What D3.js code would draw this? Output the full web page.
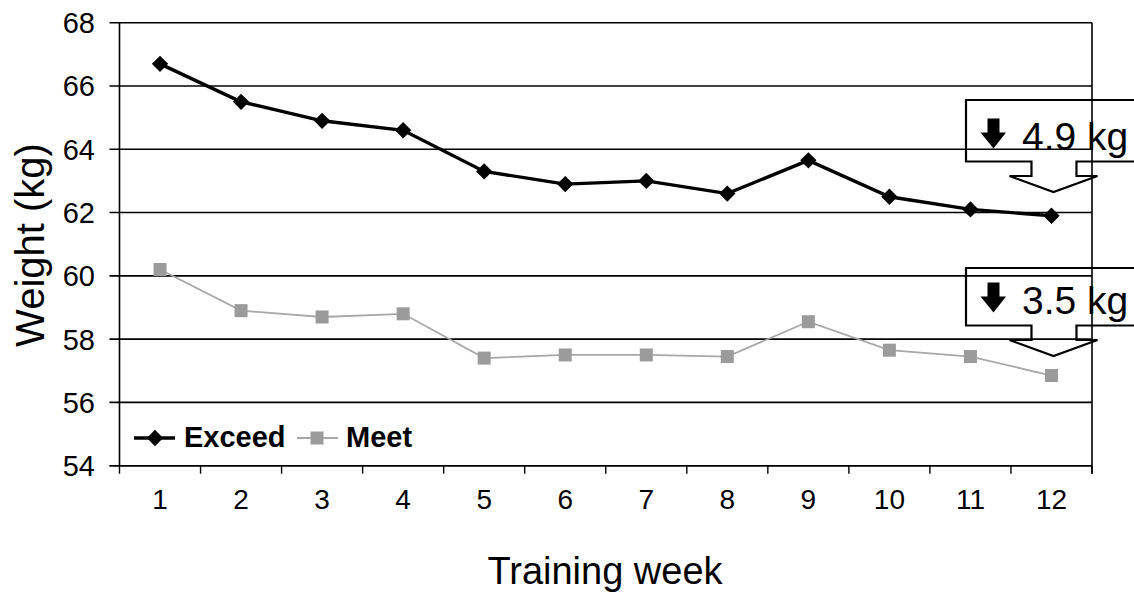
<!DOCTYPE html>
<html>
<head>
<meta charset="utf-8">
<script src="https://cdn.jsdelivr.net/npm/d3@7"></script>
<style>
  html, body { margin: 0; padding: 0; background: #fff; }
  svg { display: block; font-family: "Liberation Sans", Arial, sans-serif; }
</style>
</head>
<body>
<svg id="chart" width="1134" height="593"></svg>
<script>
// Weekly mean body weight for the two groups
const weeks = ["1", "2", "3", "4", "5", "6", "7", "8", "9", "10", "11", "12"];
const exceedWeight = [66.7, 65.5, 64.9, 64.6, 63.3, 62.9, 63.0, 62.6, 63.65, 62.5, 62.1, 61.9];
const meetWeight   = [60.2, 58.9, 58.7, 58.8, 57.4, 57.5, 57.5, 57.45, 58.55, 57.65, 57.45, 56.85];
const yTicks = [54, 56, 58, 60, 62, 64, 66, 68];
const seriesNames = ["Exceed", "Meet"];
const dropLabels = ["4.9 kg", "3.5 kg"];

const svg = d3.select("#chart");
const plotLeft = 119.5, plotRight = 1092, plotTop = 22.7, plotBottom = 465.7;

const x = d3.scaleBand().domain(weeks).range([plotLeft, plotRight]).paddingInner(0).paddingOuter(0);
const y = d3.scaleLinear().domain([54, 68]).range([plotBottom, plotTop]);
const cx = d => x(d) + x.bandwidth() / 2;

// Horizontal gridlines (with the short outer tick on the left)
svg.append("g")
  .selectAll("line")
  .data(yTicks)
  .join("line")
  .attr("x1", plotLeft - 10).attr("x2", plotRight)
  .attr("y1", d => y(d)).attr("y2", d => y(d))
  .attr("stroke", "#000").attr("stroke-width", 1.6);

// Y axis line and right border of the plot area
svg.append("line").attr("x1", plotLeft).attr("x2", plotLeft).attr("y1", plotTop).attr("y2", plotBottom)
  .attr("stroke", "#000").attr("stroke-width", 1.6);
svg.append("line").attr("x1", plotRight).attr("x2", plotRight).attr("y1", plotTop).attr("y2", plotBottom + 8)
  .attr("stroke", "#000").attr("stroke-width", 1.6);

// Y tick labels
svg.append("g")
  .selectAll("text")
  .data(yTicks)
  .join("text")
  .attr("x", 95).attr("y", d => y(d))
  .attr("dy", "0.36em")
  .attr("text-anchor", "end")
  .attr("font-size", 29)
  .text(d => d);

// X axis with category boundary ticks
svg.append("line").attr("x1", plotLeft - 10).attr("x2", plotRight).attr("y1", plotBottom).attr("y2", plotBottom)
  .attr("stroke", "#000").attr("stroke-width", 1.6);
const boundaries = weeks.map(w => x(w)).concat([plotRight]);
svg.append("g")
  .selectAll("line")
  .data(boundaries)
  .join("line")
  .attr("x1", d => d).attr("x2", d => d)
  .attr("y1", plotBottom).attr("y2", plotBottom + 8)
  .attr("stroke", "#000").attr("stroke-width", 1.4);

svg.append("g")
  .selectAll("text")
  .data(weeks)
  .join("text")
  .attr("x", d => cx(d)).attr("y", 509)
  .attr("text-anchor", "middle")
  .attr("font-size", 28)
  .text(d => d);

// Axis titles
svg.append("text")
  .attr("x", 605).attr("y", 584)
  .attr("text-anchor", "middle")
  .attr("font-size", 38)
  .text("Training week");
svg.append("text")
  .attr("transform", "translate(44,245) rotate(-90)")
  .attr("text-anchor", "middle")
  .attr("font-size", 40)
  .text("Weight (kg)");

// Series lines
const line = d3.line().x((d, i) => cx(weeks[i])).y(d => y(d));

svg.append("path").datum(meetWeight)
  .attr("d", line).attr("fill", "none")
  .attr("stroke", "#a8a8a8").attr("stroke-width", 1.8);
svg.append("path").datum(exceedWeight)
  .attr("d", line).attr("fill", "none")
  .attr("stroke", "#000").attr("stroke-width", 3.4);

const diamond = d3.symbol().type(d3.symbolDiamond2).size(170);
const square = 13;

svg.append("g")
  .selectAll("rect")
  .data(meetWeight)
  .join("rect")
  .attr("x", (d, i) => cx(weeks[i]) - square / 2)
  .attr("y", d => y(d) - square / 2)
  .attr("width", square).attr("height", square)
  .attr("fill", "#9b9b9b");

svg.append("g")
  .selectAll("path")
  .data(exceedWeight)
  .join("path")
  .attr("transform", (d, i) => `translate(${cx(weeks[i])},${y(d)})`)
  .attr("d", diamond)
  .attr("fill", "#000");

// Legend
const lg = svg.append("g").attr("font-size", 29).attr("font-weight", "bold");
lg.append("line").attr("x1", 134).attr("x2", 175).attr("y1", 438).attr("y2", 438)
  .attr("stroke", "#000").attr("stroke-width", 3.4);
lg.append("path").attr("transform", "translate(155,438)").attr("d", diamond).attr("fill", "#000");
lg.append("text").attr("x", 184).attr("y", 447).text(seriesNames[0]);
lg.append("line").attr("x1", 297).attr("x2", 338).attr("y1", 438).attr("y2", 438)
  .attr("stroke", "#a8a8a8").attr("stroke-width", 1.8);
lg.append("rect").attr("x", 317 - square / 2).attr("y", 438 - square / 2)
  .attr("width", square).attr("height", square).attr("fill", "#9b9b9b");
lg.append("text").attr("x", 346).attr("y", 447).text(seriesNames[1]);

// Callouts showing the total drop for each group
function callout(boxTop, boxBottom, stemBottom, tipY, label) {
  const tipX = cx(weeks[weeks.length - 1]) + 2;
  const g = svg.append("g");
  const p = d3.path();
  p.moveTo(1150, boxTop);
  p.lineTo(966, boxTop);
  p.lineTo(966, boxBottom);
  p.lineTo(tipX - 22, boxBottom);
  p.lineTo(tipX - 22, stemBottom);
  p.lineTo(tipX - 44, stemBottom);
  p.lineTo(tipX, tipY);
  p.lineTo(tipX + 44, stemBottom);
  p.lineTo(tipX + 23, stemBottom);
  p.lineTo(tipX + 23, boxBottom);
  p.lineTo(1150, boxBottom);
  g.append("path").attr("d", p.toString())
    .attr("fill", "none").attr("stroke", "#000").attr("stroke-width", 2.2)
    .attr("stroke-linejoin", "miter");
  // bold down arrow
  const base = boxBottom - 13;
  const a = d3.path();
  a.moveTo(987.5, base - 30);
  a.lineTo(999.5, base - 30);
  a.lineTo(999.5, base - 16);
  a.lineTo(1006, base - 16);
  a.lineTo(993.5, base);
  a.lineTo(980.5, base - 16);
  a.lineTo(987.5, base - 16);
  a.closePath();
  g.append("path").attr("d", a.toString()).attr("fill", "#000");
  g.append("text").attr("x", 1022).attr("y", base + 1)
    .attr("font-size", 39).text(label);
}
callout(100, 161.5, 176, 192, dropLabels[0]);
callout(268, 325.5, 340, 356, dropLabels[1]);
</script>
</body>
</html>
